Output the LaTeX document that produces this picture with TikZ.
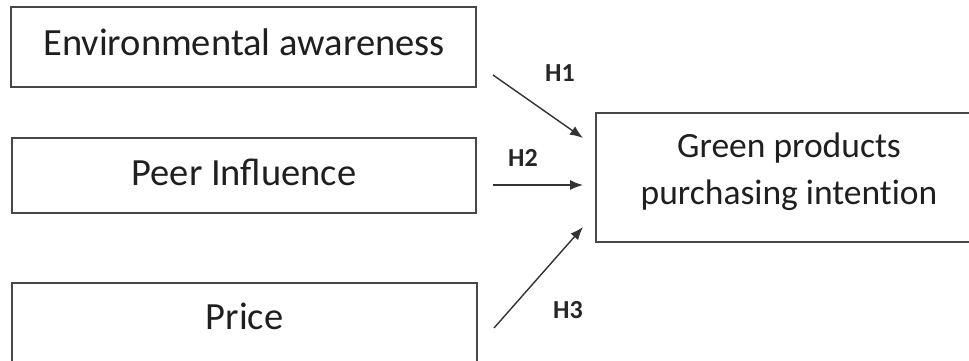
\documentclass[tikz,border=0pt]{standalone}
\usepackage{fontspec}
\setmainfont{Carlito}
\newfontfamily\gpfont{Carlito}[Ligatures=NoCommon]
\usetikzlibrary{arrows.meta}
\begin{document}
\begin{tikzpicture}[x=1pt,y=-1pt,
  box/.style={draw=black!72, line width=1.6pt, fill=white, inner sep=0pt},
  bigtext/.style={font=\fontsize{38.5}{42}\selectfont, text=black!88, inner sep=0pt, anchor=base},
  gtext/.style={font=\gpfont\fontsize{35.5}{47}\selectfont, text=black!88, inner sep=0pt, anchor=base, align=center},
  link/.style={draw=black!80, line width=1.4pt, -{Latex[length=13pt,width=10pt]}},
  hlab/.style={font=\fontsize{26}{30}\selectfont\bfseries, text=black!85, inner sep=0pt}]
\clip (0,0) rectangle (969,360);
\fill[white] (0,0) rectangle (969,360);
\node[box, minimum width=465pt, minimum height=80pt] (env) at (243.5,47) {};
\node[box, minimum width=464pt, minimum height=75pt] (peer) at (244,175.5) {};
\node[box, minimum width=465pt, minimum height=80pt] (price) at (244.5,323) {};
\node[box, minimum width=386pt, minimum height=129pt] (gp) at (789,177.5) {};
\node[bigtext] (envt) at (244,55) {Environmental awareness};
\node[bigtext] (peert) at (244,185) {Peer Influence};
\node[bigtext] (pricet) at (244.5,329) {Price};
\node[gtext] (gpt) at (789,204) {Green products\\purchasing intention};
\coordinate (s1) at (493,75);  \coordinate (e1) at (583,138);
\coordinate (s2) at (493,185); \coordinate (e2) at (583,185);
\coordinate (s3) at (494,328); \coordinate (e3) at (583,227);
\draw[link] (s1) -- (e1);
\draw[link] (s2) -- (e2);
\draw[link] (s3) -- (e3);
\node[hlab] (h1) at (560,73) {H1};
\node[hlab] (h2) at (523,158) {H2};
\node[hlab] (h3) at (568,310) {H3};
\end{tikzpicture}
\end{document}
